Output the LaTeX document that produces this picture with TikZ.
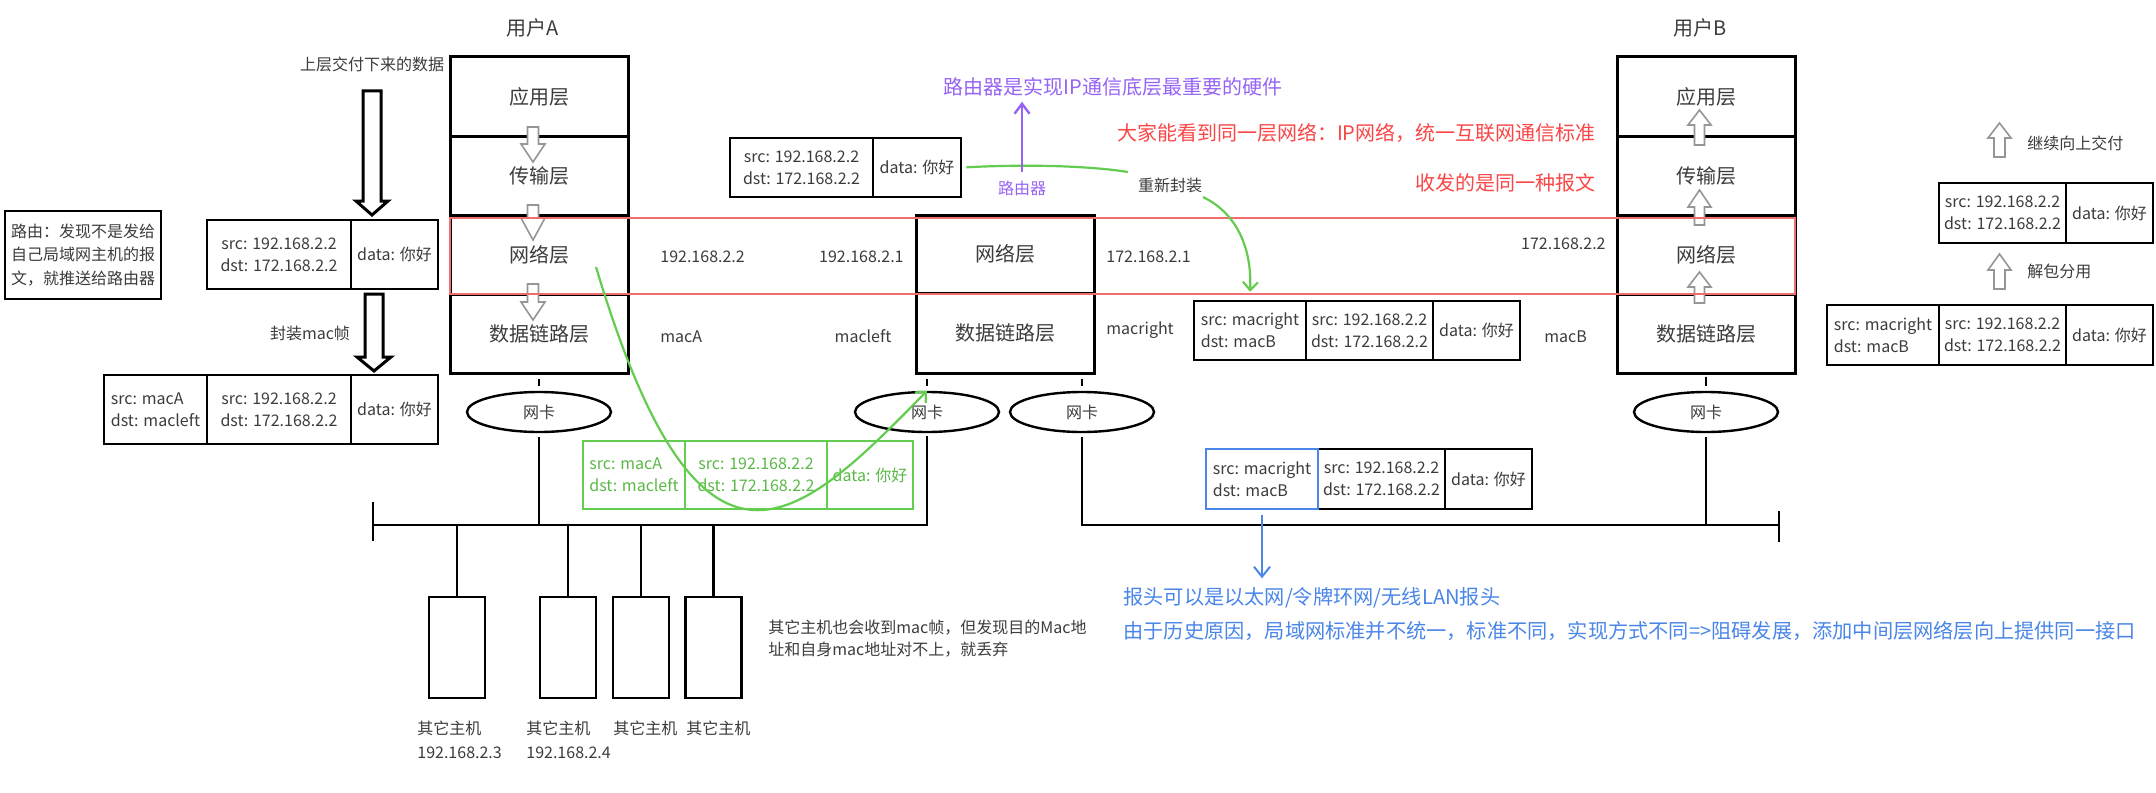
\documentclass[tikz,border=0pt]{standalone}
\usepackage{fontspec}
\setmainfont{Noto Sans CJK SC}
\usetikzlibrary{arrows.meta,shapes.geometric}
\definecolor{txt}{RGB}{60,60,60}
\definecolor{hgrey}{RGB}{150,150,150}
\definecolor{pur}{RGB}{150,100,245}
\definecolor{redt}{RGB}{250,70,70}
\definecolor{redr}{RGB}{240,110,110}
\definecolor{grn}{RGB}{100,205,80}
\definecolor{grnt}{RGB}{90,185,70}
\definecolor{blu}{RGB}{74,134,232}
% x, y base, y head base, y tip, half shaft, half head, style
\newcommand{\hollowarrow}[7]{\draw[#7] (#1-#5,#2) -- (#1+#5,#2) -- (#1+#5,#3) -- (#1+#6,#3) -- (#1,#4) -- (#1-#6,#3) -- (#1-#5,#3) -- cycle;}
\begin{document}
\begin{tikzpicture}[x=0.5pt,y=-0.5pt,
  every node/.style={text=txt,font=\fontsize{8}{11}\selectfont},
  big/.style={font=\fontsize{10}{12}\selectfont},
  lbl/.style={inner sep=0pt},
  layer/.style={draw=black,line width=1.5pt,minimum width=89pt,minimum height=39.5pt,inner sep=0pt,font=\fontsize{10}{12}\selectfont},
  cell/.style={draw=black,line width=1.3pt,inner sep=0pt,align=center},
  gcell/.style={cell,draw=grn,line width=1.2pt,text=grnt},
  hbig/.style={draw=black,line width=1.5pt,fill=white},
  hsmall/.style={draw=hgrey,line width=0.8pt,fill=white},
  wire/.style={line width=1.1pt},
  nic/.style={ellipse,draw=black,line width=1.2pt,minimum width=72pt,minimum height=20pt,inner sep=0pt},
  host/.style={draw=black,line width=1.4pt,minimum width=28pt,minimum height=50.5pt,inner sep=0pt},
  gline/.style={draw=grn,line width=1.1pt},
  garrow/.style={gline,-{Straight Barb[length=4pt,width=7.5pt]}},
  parrow/.style={draw=pur,line width=1.2pt,-{Straight Barb[length=5pt,width=7.5pt]}},
  barrow/.style={draw=blu,line width=1pt,-{Straight Barb[length=5pt,width=8pt]}}
]
\useasboundingbox (0,0) rectangle (2156,792);
\fill[white] (0,0) rectangle (2156,792);

% user titles
\node[big] (uA) at (533,28) {用户A};
\node[big] (uB) at (1700,28) {用户B};

% stack A
\node[layer] (aApp) at (539,96.5) {应用层};
\node[layer] (aTra) at (539,175.5) {传输层};
\node[layer] (aNet) at (539,254.5) {网络层};
\node[layer] (aDl) at (539,333.5) {数据链路层};
% router
\node[layer,minimum height=39pt] (rNet) at (1005,254) {网络层};
\node[layer,minimum height=40pt] (rDl) at (1005,333) {数据链路层};
% stack B
\node[layer] (bApp) at (1706,96.5) {应用层};
\node[layer] (bTra) at (1706,175.5) {传输层};
\node[layer] (bNet) at (1706,254.5) {网络层};
\node[layer] (bDl) at (1706,333.5) {数据链路层};

% small hollow arrows in the stacks
\hollowarrow{533}{127}{144}{162}{5.5}{12}{hsmall}
\hollowarrow{533}{205}{218}{240}{5.5}{12}{hsmall}
\hollowarrow{533}{284}{302}{320}{5.5}{12}{hsmall}
\hollowarrow{1699.5}{145}{125}{110}{5}{11.5}{hsmall}
\hollowarrow{1699.5}{225}{207}{190}{5}{11.5}{hsmall}
\hollowarrow{1699.5}{303}{287}{272}{5}{11.5}{hsmall}

% red band
\draw[draw=redr,line width=0.9pt] (450,218) rectangle (1795,294);

% left side
\node[lbl] (lblUp) at (372,64) {上层交付下来的数据};
\hollowarrow{372}{91}{201}{215}{9}{16}{hbig}
\node[cell,minimum width=72pt,minimum height=34.5pt] (ipA1) at (279,254.5) {src: 192.168.2.2\\dst: 172.168.2.2};
\node[cell,minimum width=43.5pt,minimum height=34.5pt] (ipA2) at (394.5,254.5) {data: 你好};
\hollowarrow{374}{294}{357}{371}{9}{17}{hbig}
\node[lbl] (lblEnc) at (310,333) {封装mac帧};
\node[cell,minimum width=51.5pt,minimum height=34.5pt,align=left] (frA1) at (155.5,409.5) {src: macA\\dst: macleft};
\node[cell,minimum width=72pt,minimum height=34.5pt] (frA2) at (279,409.5) {src: 192.168.2.2\\dst: 172.168.2.2};
\node[cell,minimum width=43.5pt,minimum height=34.5pt] (frA3) at (394.5,409.5) {data: 你好};
\node[draw=black,line width=1.4pt,minimum width=78pt,minimum height=44pt,inner sep=0pt,align=left,font=\fontsize{8}{11.75}\selectfont] (route) at (83,255) {路由：发现不是发给\\自己局域网主机的报\\文，就推送给路由器};

% address labels
\node[lbl,anchor=west] (ipa) at (660,257) {192.168.2.2};
\node[lbl,anchor=east] (ipl) at (904,257) {192.168.2.1};
\node[lbl,anchor=west] (ipr) at (1106,257) {172.168.2.1};
\node[lbl,anchor=east] (ipb) at (1606,244) {172.168.2.2};
\node[lbl,anchor=west] (maca) at (660,337) {macA};
\node[lbl] (macl) at (863,336) {macleft};
\node[lbl,anchor=west] (macr) at (1106,330) {macright};
\node[lbl,anchor=west] (macb) at (1544,337) {macB};

% NICs
\node[nic] (na) at (539,412) {网卡};
\node[nic] (rl) at (927,412) {网卡};
\node[nic] (rr) at (1082,412) {网卡};
\node[nic] (nb) at (1706,412) {网卡};
\draw[wire,shorten <=2pt,shorten >=2.5pt] (aDl.south) -- (na.north);
\draw[wire,shorten <=2pt,shorten >=2.5pt] (rDl.south -| rl.north) -- (rl.north);
\draw[wire,shorten <=2pt,shorten >=2.5pt] (rDl.south -| rr.north) -- (rr.north);
\draw[wire,shorten <=1pt,shorten >=2.5pt] (bDl.south) -- (nb.north);

% buses
\coordinate (b1L) at (373,525);
\coordinate (b2R) at (1779,525);
\draw[wire,shorten <=1.5pt] (rl.south) -- (rl.south |- b1L) -- (b1L);
\draw[wire,shorten <=2pt] (na.south) -- (na.south |- b1L);
\draw[wire] ([yshift=11.5pt]b1L) -- ([yshift=-8pt]b1L);
\draw[wire,shorten <=2pt] (rr.south) -- (rr.south |- b2R) -- (b2R);
\draw[wire,shorten <=2pt] (nb.south) -- (nb.south |- b2R);
\draw[wire] ([yshift=7pt]b2R) -- ([yshift=-8.5pt]b2R);

% other hosts
\node[host] (h1) at (457,647.5) {};
\node[host] (h2) at (568,647.5) {};
\node[host] (h3) at (641,647.5) {};
\node[host] (h4) at (713.5,647.5) {};
\foreach \h in {h1,h2,h3,h4} \draw[wire] (\h.north) -- (\h.north |- b1L);
\node[lbl,anchor=west,align=left,font=\fontsize{8}{12}\selectfont] (t1) at (417,740) {其它主机\\192.168.2.3};
\node[lbl,anchor=west,align=left,font=\fontsize{8}{12}\selectfont] (t2) at (526,740) {其它主机\\192.168.2.4};
\node[lbl,anchor=west] (t3) at (613,728) {其它主机};
\node[lbl,anchor=west] (t4) at (686,728) {其它主机};
\node[lbl,anchor=west,align=left,font=\fontsize{8}{11}\selectfont] (drop) at (768,639) {其它主机也会收到mac帧，但发现目的Mac地\\址和自身mac地址对不上，就丢弃};

% green frame on the wire
\node[gcell,minimum width=51pt,minimum height=34pt,align=left] (g1) at (634,475) {src: macA\\dst: macleft};
\node[gcell,minimum width=71pt,minimum height=34pt] (g2) at (756,475) {src: 192.168.2.2\\dst: 172.168.2.2};
\node[gcell,minimum width=43pt,minimum height=34pt] (g3) at (870,475) {data: 你好};
\coordinate (gs) at (596,267);
\draw[garrow] (gs) .. controls (701,617) and (798,523) .. (rl.north);

% router packet
\node[cell,minimum width=71.5pt,minimum height=29.5pt] (rp1) at (801.5,167.5) {src: 192.168.2.2\\dst: 172.168.2.2};
\node[cell,minimum width=44pt,minimum height=29.5pt] (rp2) at (917,167.5) {data: 你好};
\coordinate (ge) at (1128,172);
\draw[gline,shorten <=2pt] (rp2.east) .. controls (1030,164) and (1090,166) .. (ge);
\node[big,lbl,text=pur] (ptitle) at (1113,87) {路由器是实现IP通信底层最重要的硬件};
\node[lbl,text=pur] (lr) at (1022,188) {路由器};
\coordinate (pb) at (1022,172);
\draw[parrow,shorten >=2.5pt] (pb) -- (pb |- ptitle.south);
\node[lbl] (renc) at (1170,185) {重新封装};
\node[big,lbl,anchor=east,text=redt] (red1) at (1596,133) {大家能看到同一层网络：IP网络，统一互联网通信标准};
\node[big,lbl,anchor=east,text=redt] (red2) at (1596,183) {收发的是同一种报文};

% frame after router
\node[cell,minimum width=56pt,minimum height=29.5pt,align=left] (mr1) at (1250,330.5) {src: macright\\dst: macB};
\node[cell,minimum width=63.5pt,minimum height=29.5pt] (mr2) at (1369.5,330.5) {src: 192.168.2.2\\dst: 172.168.2.2};
\node[cell,minimum width=43.5pt,minimum height=29.5pt] (mr3) at (1476.5,330.5) {data: 你好};
\coordinate (cs) at (1203,197);
\draw[garrow] (cs) .. controls (1238,214) and (1252,250) .. ([yshift=4pt]mr1.north);

% blue frame
\node[cell,minimum width=63.5pt,minimum height=30pt] (bl2) at (1381.5,479) {src: 192.168.2.2\\dst: 172.168.2.2};
\node[cell,minimum width=43.5pt,minimum height=30pt] (bl3) at (1488.5,479) {data: 你好};
\node[cell,draw=blu,minimum width=56pt,minimum height=30pt,align=left] (bl1) at (1262,479) {src: macright\\dst: macB};
\draw[barrow,shorten <=2.5pt] (bl1.south) -- ++(0,68);
\node[lbl,anchor=west,align=left,text=blu,font=\fontsize{10.1}{17}\selectfont] (btext) at (1123,614) {报头可以是以太网/令牌环网/无线LAN报头\\由于历史原因，局域网标准并不统一，标准不同，实现方式不同=>阻碍发展，添加中间层网络层向上提供同一接口};

% right side unpacking
\hollowarrow{1999.5}{157}{138}{123}{5.5}{11.5}{hsmall}
\node[lbl,anchor=west] (up1) at (2027,143) {继续向上交付};
\node[cell,minimum width=63.5pt,minimum height=30pt] (ri1) at (2002.5,213) {src: 192.168.2.2\\dst: 172.168.2.2};
\node[cell,minimum width=43.5pt,minimum height=30pt] (ri2) at (2109.5,213) {data: 你好};
\hollowarrow{1999.5}{289}{270}{254}{5.5}{11.5}{hsmall}
\node[lbl,anchor=west] (up2) at (2027,271) {解包分用};
\node[cell,minimum width=56pt,minimum height=30pt,align=left] (rf1) at (1883,335) {src: macright\\dst: macB};
\node[cell,minimum width=63.5pt,minimum height=30pt] (rf2) at (2002.5,335) {src: 192.168.2.2\\dst: 172.168.2.2};
\node[cell,minimum width=43.5pt,minimum height=30pt] (rf3) at (2109.5,335) {data: 你好};
\end{tikzpicture}
\end{document}
